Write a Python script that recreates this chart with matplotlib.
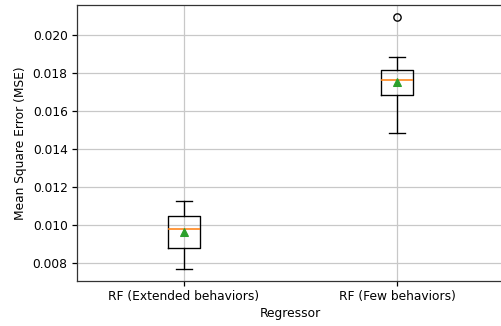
import matplotlib
matplotlib.use("Agg")
import matplotlib.pyplot as plt

labels = ["RF (Extended behaviors)", "RF (Few behaviors)"]
whislo = [0.00768, 0.01484]
q1 = [0.00879, 0.01684]
med = [0.00979, 0.01763]
mean = [0.00963, 0.01753]
q3 = [0.01047, 0.01816]
whishi = [0.01126, 0.01884]
fliers = [[], [0.02095]]

stats = []
for i in range(len(labels)):
    stats.append(dict(label=labels[i], whislo=whislo[i], q1=q1[i], med=med[i],
                      mean=mean[i], q3=q3[i], whishi=whishi[i], fliers=fliers[i]))

plt.rcParams['font.size'] = 11.8
lw = 1.3
fig = plt.figure(figsize=(501/75, 326/75), dpi=75)
ax = fig.add_axes([77/501, 1-281/326, (504-77)/501, (281-5)/326])
ax.bxp(stats, showmeans=True,
       boxprops=dict(linewidth=lw),
       whiskerprops=dict(linewidth=lw),
       capprops=dict(linewidth=lw),
       medianprops=dict(linewidth=1.5),
       meanprops=dict(marker='^', markerfacecolor='C2', markeredgecolor='C2', markersize=8),
       flierprops=dict(marker='o', markersize=7, markeredgewidth=lw))
ax.set_ylim(0.00705, 0.02158)
ax.set_xlim(0.5, 2.5)
ax.grid(True, color='#c8c8c8', linewidth=1.2)
ax.set_axisbelow(True)
for s in ax.spines.values():
    s.set_linewidth(1.2)
    s.set_color('#333333')
ax.tick_params(width=1.2, length=4.5, pad=4.5)
ax.set_xlabel("Regressor", labelpad=3)
ax.set_ylabel("Mean Square Error (MSE)", labelpad=5)
fig.savefig("out.png", dpi=75)
